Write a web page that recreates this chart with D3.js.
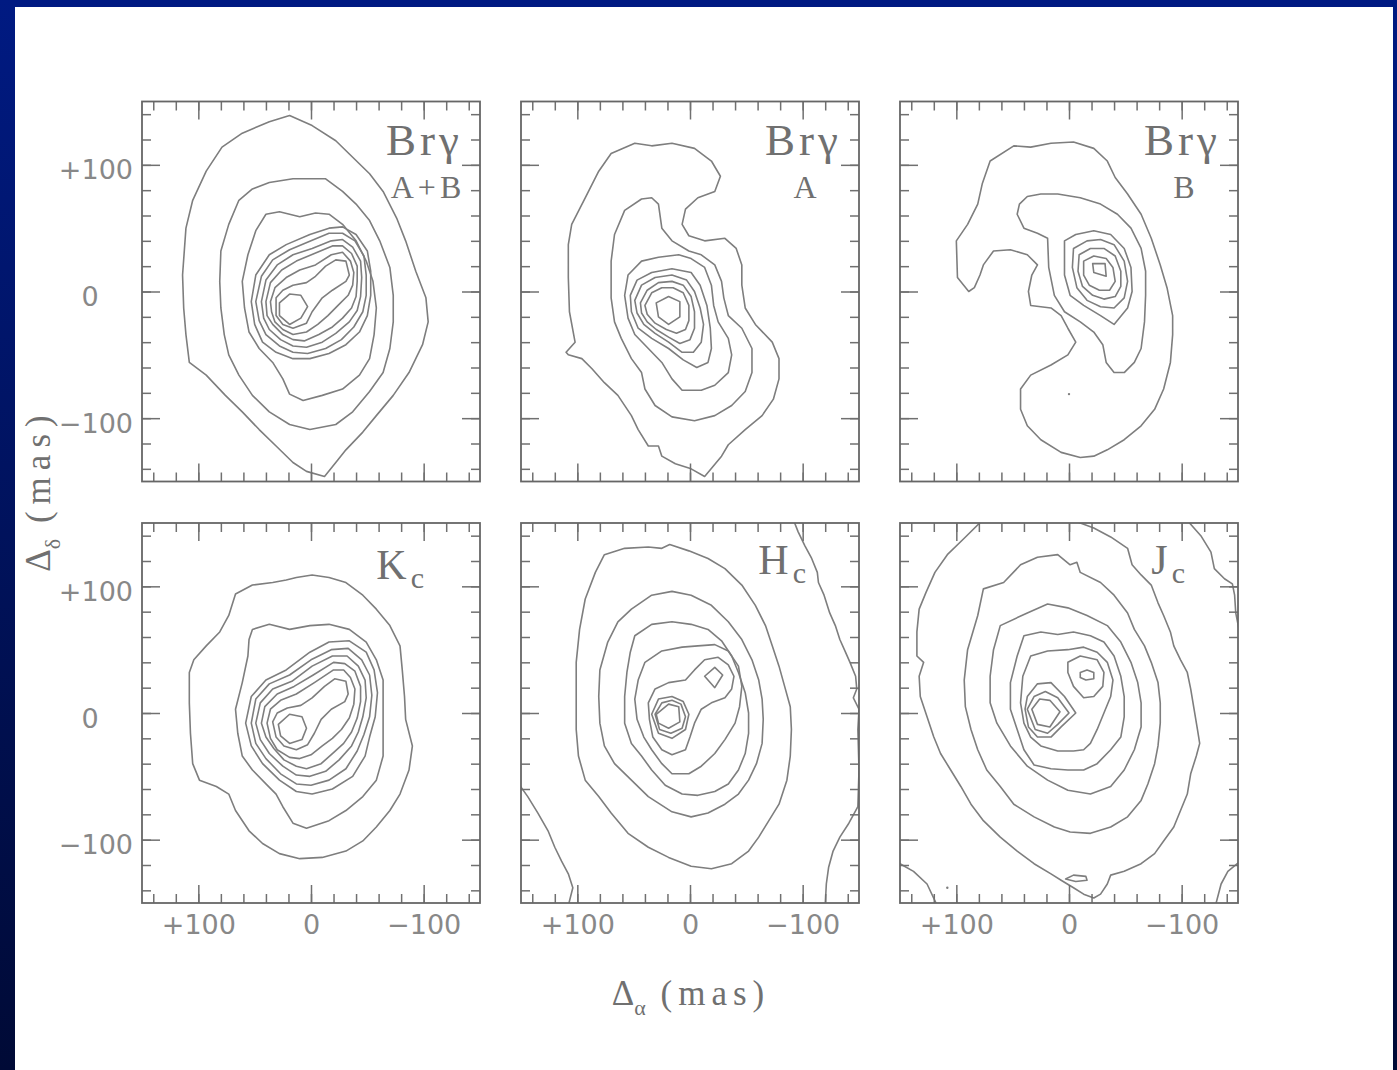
<!DOCTYPE html>
<html>
<head>
<meta charset="utf-8">
<script src="https://d3js.org/d3.v7.min.js"></script>
<style>
body {
  margin: 0;
  width: 1397px;
  height: 1070px;
  overflow: hidden;
  background: linear-gradient(#001a82, #000a36);
}
#sheet {
  position: absolute;
  left: 15px;
  top: 7px;
  width: 1378px;
  height: 1063px;
  background: #fff;
}
svg { position: absolute; left: 0; top: 0; }
.tick text { font-family: "DejaVu Sans", sans-serif; fill: #888; }
.tick line { stroke: #707070; stroke-width: 1.5; }
</style>
</head>
<body>
<div id="sheet"></div>
<svg id="chart" width="1397" height="1070"></svg>
<script>
// contour lines, offsets in mas [dAlpha, dDelta]
var brgAB = [
  [[19,139],[-1,131],[-22,119],[-37,106],[-52,93],[-64,79],[-76,58],[-84,40],[-93,16],[-102,-5],[-104,-24],[-99,-42],[-87,-64],[-73,-82],[-58,-98],[-46,-111],[-31,-125],[-22,-135],[-12,-146],[4,-142],[16,-135],[31,-122],[46,-109],[61,-95],[76,-82],[93,-66],[108,-56],[111,-34],[113,-13],[114,13],[111,50],[105,72],[93,95],[79,114],[61,125],[37,134]],
  [[52,81],[37,86],[16,89],[-13,89],[-28,79],[-40,69],[-52,56],[-61,40],[-70,19],[-73,-3],[-73,-24],[-70,-45],[-64,-64],[-52,-79],[-37,-95],[-22,-105],[1,-109],[19,-105],[37,-95],[52,-82],[64,-66],[73,-50],[77,-34],[80,-13],[81,8],[80,32],[73,53],[64,72]],
  [[40,61],[28,63],[10,59],[-4,62],[-16,61],[-28,53],[-40,40],[-49,24],[-55,8],[-58,-13],[-56,-34],[-52,-53],[-43,-66],[-28,-77],[-10,-82],[7,-86],[19,-81],[25,-69],[34,-56],[46,-45],[55,-32],[59,-13],[61,8],[56,29],[49,48]],
  [[53,-8],[49,13],[37,29],[22,37],[1,45],[-16,50],[-28,51],[-40,45],[-50,32],[-53,16],[-53,-3],[-50,-19],[-43,-32],[-31,-42],[-16,-49],[1,-53],[16,-53],[31,-48],[43,-40],[50,-26]],
  [[49,-8],[44,12],[34,25],[19,33],[0,40],[-16,46],[-28,46],[-39,40],[-47,28],[-49,13],[-49,-3],[-46,-16],[-38,-28],[-27,-38],[-13,-45],[3,-49],[16,-48],[28,-43],[40,-34],[46,-23]],
  [[44,-8],[40,9],[30,21],[16,29],[-1,34],[-18,40],[-28,41],[-37,35],[-44,24],[-45,11],[-44,-4],[-41,-15],[-34,-24],[-22,-33],[-10,-40],[4,-44],[16,-43],[27,-38],[37,-30],[42,-21]],
  [[40,-8],[36,7],[26,17],[13,24],[-3,30],[-19,36],[-28,36],[-36,30],[-41,20],[-41,8],[-40,-4],[-36,-13],[-28,-21],[-19,-28],[-7,-34],[6,-39],[16,-38],[25,-34],[34,-26],[39,-19]],
  [[36,-8],[32,3],[22,11],[10,17],[-4,21],[-18,29],[-28,31],[-35,24],[-38,15],[-37,5],[-33,-3],[-24,-11],[-15,-19],[-6,-26],[4,-32],[16,-34],[25,-30],[32,-24],[35,-16]],
  [[31,-5],[25,1],[16,5],[4,7],[-4,12],[-13,20],[-22,25],[-31,24],[-34,13],[-31,8],[-19,1],[-10,-5],[-1,-16],[4,-25],[16,-29],[25,-26],[31,-19]],
  [[28,-9],[19,-2],[9,-3],[3,-12],[9,-21],[19,-26],[28,-19]]
];

var brgA = [
  [[70,109],[49,117],[34,115],[16,117],[-4,113],[-19,103],[-27,91],[-22,79],[-7,74],[4,65],[7,53],[1,44],[-13,40],[-31,42],[-41,34],[-46,21],[-46,5],[-49,-13],[-58,-26],[-73,-40],[-79,-53],[-79,-69],[-74,-85],[-64,-98],[-49,-109],[-34,-121],[-28,-130],[-13,-146],[-1,-140],[13,-136],[25,-130],[28,-122],[37,-122],[46,-109],[52,-98],[64,-82],[76,-72],[87,-61],[96,-53],[108,-50],[110,-48],[102,-40],[107,-16],[108,11],[108,37],[105,53],[93,74],[81,95]],
  [[43,73],[34,74],[28,69],[25,50],[16,40],[1,32],[-10,29],[-22,21],[-28,8],[-30,-5],[-34,-19],[-46,-29],[-55,-45],[-55,-64],[-49,-79],[-37,-90],[-22,-98],[-4,-102],[16,-99],[31,-90],[40,-77],[43,-64],[52,-53],[61,-37],[67,-24],[70,-5],[70,24],[67,45],[58,64]],
  [[43,24],[28,27],[10,29],[-1,26],[-13,19],[-19,5],[-21,-11],[-25,-24],[-34,-37],[-37,-50],[-34,-64],[-22,-74],[-10,-78],[7,-78],[16,-69],[25,-56],[37,-45],[49,-34],[55,-21],[58,-3],[55,13]],
  [[53,-3],[47,9],[34,15],[16,18],[-1,15],[-9,5],[-15,-11],[-18,-29],[-19,-45],[-16,-56],[-6,-60],[6,-54],[19,-45],[34,-37],[46,-29],[52,-16]],
  [[49,-7],[43,5],[31,11],[16,13],[3,9],[-4,0],[-9,-13],[-12,-26],[-10,-40],[-3,-48],[7,-48],[19,-40],[31,-33],[41,-26],[47,-17]],
  [[44,-9],[38,1],[28,7],[16,8],[6,5],[-1,-4],[-4,-16],[-4,-29],[0,-38],[9,-41],[19,-36],[30,-30],[38,-24],[43,-17]],
  [[40,-11],[34,-1],[25,3],[15,3],[6,-1],[1,-11],[1,-23],[4,-30],[12,-33],[21,-30],[31,-25],[38,-18]],
  [[30,-9],[19,-4],[9,-8],[9,-20],[19,-26],[28,-20]]
];

var brgB = [
  [[70,103],[49,115],[34,114],[16,117],[-4,118],[-22,113],[-34,103],[-41,90],[-52,77],[-64,61],[-73,42],[-81,21],[-87,3],[-92,-19],[-92,-34],[-90,-56],[-84,-77],[-76,-93],[-64,-106],[-49,-117],[-34,-125],[-22,-130],[-10,-131],[7,-127],[25,-117],[37,-106],[43,-93],[43,-77],[34,-66],[16,-58],[1,-50],[-6,-40],[1,-29],[7,-19],[16,-13],[34,-11],[36,0],[33,13],[28,21],[37,29],[52,33],[67,32],[76,21],[79,13],[84,3],[89,0],[99,11],[100,40],[90,53],[81,69],[77,85]],
  [[44,69],[37,75],[25,77],[10,77],[-10,74],[-28,69],[-43,61],[-55,50],[-64,34],[-68,16],[-68,-3],[-67,-24],[-64,-45],[-58,-56],[-49,-64],[-40,-64],[-33,-56],[-30,-42],[-22,-32],[-10,-24],[4,-16],[13,-3],[18,19],[19,42],[28,46],[40,50],[46,61]],
  [[4,40],[-6,45],[-22,48],[-37,45],[-49,34],[-55,19],[-56,0],[-52,-13],[-40,-26],[-28,-19],[-13,-11],[-1,-3],[4,13]],
  [[-4,34],[-16,40],[-28,41],[-40,37],[-49,24],[-52,8],[-49,-5],[-40,-13],[-28,-12],[-16,-7],[-7,3],[-3,19]],
  [[-9,29],[-19,34],[-31,34],[-41,28],[-46,16],[-46,4],[-41,-4],[-31,-6],[-21,-3],[-12,4],[-8,16]],
  [[-13,24],[-22,28],[-33,26],[-39,19],[-41,8],[-36,1],[-27,1],[-18,5],[-13,13]],
  [[-21,22],[-32,22],[-33,12],[-22,15]]
];
var brgBDots = [[0,-81]];

var kc = [
  [[67,94],[52,101],[34,103],[22,105],[13,107],[-1,109],[-16,107],[-31,103],[-46,93],[-58,82],[-70,69],[-79,53],[-81,34],[-83,13],[-84,-5],[-90,-26],[-87,-45],[-79,-64],[-70,-77],[-58,-90],[-46,-101],[-31,-109],[-10,-114],[10,-115],[28,-111],[43,-103],[55,-93],[67,-77],[73,-64],[84,-58],[99,-53],[105,-40],[107,-16],[108,8],[108,32],[104,42],[93,53],[81,64],[73,77]],
  [[52,66],[37,70],[19,66],[1,69],[-16,70],[-34,66],[-49,56],[-58,42],[-64,26],[-64,8],[-64,-13],[-64,-34],[-58,-53],[-46,-66],[-31,-77],[-16,-85],[4,-91],[16,-87],[25,-74],[31,-64],[40,-56],[52,-45],[61,-34],[65,-16],[67,3],[61,24],[56,45],[55,58]],
  [[58,-8],[53,13],[40,26],[22,34],[1,48],[-16,56],[-34,57],[-49,48],[-56,34],[-59,16],[-57,-3],[-52,-19],[-48,-34],[-37,-50],[-19,-60],[-1,-64],[13,-62],[28,-53],[43,-40],[53,-26]],
  [[53,-8],[49,11],[37,23],[19,30],[0,42],[-18,50],[-33,51],[-45,42],[-52,30],[-54,14],[-52,-3],[-47,-17],[-41,-30],[-31,-44],[-16,-53],[0,-57],[13,-56],[27,-48],[40,-36],[49,-24]],
  [[49,-8],[45,8],[34,19],[17,25],[-1,37],[-19,45],[-32,45],[-42,37],[-48,26],[-49,12],[-46,-3],[-42,-15],[-36,-26],[-25,-37],[-13,-46],[1,-50],[13,-49],[25,-42],[37,-32],[45,-21]],
  [[44,-8],[41,5],[30,15],[15,21],[-2,30],[-20,40],[-30,39],[-39,33],[-44,21],[-44,9],[-41,-4],[-36,-15],[-29,-24],[-19,-32],[-9,-40],[4,-44],[13,-42],[24,-37],[33,-28],[40,-19]],
  [[39,-8],[36,3],[27,10],[13,15],[-3,24],[-20,34],[-29,34],[-35,28],[-39,19],[-38,7],[-34,-4],[-27,-13],[-19,-20],[-10,-26],[0,-33],[10,-36],[19,-35],[30,-29],[36,-20]],
  [[34,-7],[30,0],[21,4],[9,6],[-1,12],[-12,21],[-21,27],[-31,25],[-33,15],[-30,9],[-18,3],[-9,-5],[-3,-16],[3,-25],[13,-29],[24,-26],[31,-19]],
  [[29,-9],[19,-1],[8,-3],[4,-12],[8,-21],[19,-24],[27,-18]]
];

var hc = [
  [[76,125],[58,130],[37,131],[25,130],[18,133],[1,128],[-16,122],[-31,114],[-46,101],[-58,85],[-67,69],[-73,53],[-79,37],[-84,21],[-89,5],[-90,-13],[-89,-34],[-86,-53],[-79,-72],[-70,-85],[-61,-98],[-52,-109],[-37,-119],[-19,-123],[-1,-121],[19,-114],[37,-106],[55,-95],[70,-79],[81,-66],[93,-53],[99,-34],[101,-13],[101,13],[101,40],[98,66],[93,90],[84,111]],
  [[52,82],[34,93],[16,96],[-1,93],[-19,85],[-34,72],[-46,58],[-55,42],[-61,26],[-64,11],[-65,-5],[-64,-24],[-59,-40],[-52,-53],[-43,-64],[-31,-72],[-16,-79],[-1,-82],[16,-78],[37,-66],[52,-53],[67,-40],[76,-26],[80,-8],[81,13],[80,34],[73,56],[64,72]],
  [[49,61],[34,70],[16,72],[-1,70],[-16,66],[-28,57],[-37,45],[-43,32],[-49,16],[-52,0],[-52,-16],[-49,-32],[-43,-45],[-34,-56],[-22,-62],[-7,-65],[7,-64],[22,-57],[34,-45],[43,-34],[52,-24],[58,-8],[58,13],[56,32],[53,48]],
  [[40,40],[25,49],[7,52],[-7,53],[-22,54],[-34,49],[-43,37],[-46,21],[-44,5],[-40,-8],[-31,-21],[-22,-32],[-10,-42],[1,-48],[16,-48],[25,-40],[34,-29],[41,-19],[47,-5],[49,11],[46,26]],
  [[37,8],[31,19],[19,24],[4,26],[-4,34],[-13,42],[-25,44],[-34,38],[-39,29],[-37,19],[-31,12],[-19,8],[-10,3],[-4,-8],[0,-19],[4,-29],[16,-33],[25,-29],[33,-19],[36,-5]],
  [[34,-1],[28,11],[16,13],[6,9],[1,-1],[4,-13],[16,-20],[28,-16]],
  [[31,-1],[25,8],[16,10],[8,7],[4,-3],[7,-12],[17,-16],[27,-13]],
  [[30,-1],[19,7],[10,5],[9,-7],[19,-12],[28,-8]],
  [[-13,29],[-22,36],[-29,30],[-22,20]]
];
var hcOpen = [
  [[-92,152],[-96,143],[-102,132],[-108,122],[-113,111],[-114,103],[-119,93],[-124,79],[-129,69],[-133,58],[-138,48],[-142,40],[-147,29],[-148,19],[-145,12],[-150,3],[-149,-13],[-150,-45],[-149,-74],[-141,-87],[-133,-98],[-127,-109],[-123,-122],[-121,-135],[-120,-152]],
  [[152,-56],[144,-66],[135,-79],[126,-93],[120,-106],[114,-117],[108,-127],[104,-138],[108,-152]]
];

var jc = [
  [[28,123],[10,125],[-1,117],[-7,119],[-10,111],[-28,103],[-40,93],[-52,79],[-58,66],[-67,53],[-73,40],[-79,24],[-81,8],[-81,-8],[-79,-26],[-76,-40],[-70,-56],[-64,-69],[-52,-82],[-37,-90],[-19,-95],[-1,-94],[13,-90],[31,-82],[49,-72],[61,-58],[73,-45],[81,-29],[87,-13],[92,5],[93,26],[90,50],[81,77],[76,98],[58,103],[43,117]],
  [[61,69],[37,79],[19,86],[1,83],[-16,77],[-34,69],[-46,56],[-55,40],[-61,24],[-64,8],[-64,-11],[-58,-29],[-49,-45],[-37,-58],[-19,-64],[1,-61],[19,-53],[37,-42],[52,-26],[64,-8],[70,8],[70,29],[67,50]],
  [[40,61],[25,64],[10,62],[-4,64],[-19,61],[-31,56],[-40,45],[-46,29],[-49,13],[-49,-3],[-46,-19],[-37,-29],[-25,-40],[-13,-45],[1,-45],[16,-44],[31,-41],[40,-29],[46,-13],[52,3],[52,24],[46,45]],
  [[34,45],[19,49],[1,50],[-13,52],[-25,48],[-34,40],[-39,26],[-37,13],[-31,0],[-25,-13],[-19,-24],[-13,-29],[-4,-30],[10,-30],[25,-26],[34,-19],[40,-8],[43,8],[41,29]],
  [[37,13],[28,23],[16,24],[4,13],[-6,0],[7,-11],[16,-19],[28,-19],[36,-11],[39,3]],
  [[37,3],[31,13],[21,17],[10,12],[0,0],[10,-9],[19,-16],[30,-13]],
  [[33,3],[26,11],[17,10],[8,1],[17,-11],[28,-9]],
  [[1,40],[-10,45],[-25,42],[-31,32],[-30,21],[-22,13],[-13,12],[-4,21],[1,32]],
  [[-10,32],[-16,34],[-22,32],[-22,27],[-15,26],[-10,28]],
  [[3,-131],[-4,-128],[-15,-129],[-16,-132],[-6,-133]]
];
var jcOpen = [
  [[-4,152],[-22,146],[-37,139],[-52,130],[-56,117],[-64,109],[-73,101],[-79,87],[-84,77],[-90,64],[-93,53],[-99,42],[-105,32],[-108,19],[-111,3],[-114,-13],[-116,-24],[-113,-34],[-108,-48],[-105,-64],[-99,-77],[-93,-90],[-84,-101],[-76,-111],[-64,-119],[-49,-125],[-37,-128],[-34,-135],[-28,-143],[-22,-146],[-13,-143],[-4,-138],[7,-132],[16,-127],[31,-119],[46,-109],[61,-98],[76,-85],[87,-72],[96,-58],[105,-45],[114,-32],[120,-19],[126,-3],[132,13],[133,29],[129,40],[135,45],[135,64],[133,82],[127,95],[119,111],[108,125],[93,138],[77,152]],
  [[-105,152],[-117,140],[-126,127],[-129,114],[-138,106],[-145,102],[-147,93],[-148,79],[-152,61]],
  [[152,-118],[138,-125],[126,-135],[117,-152]],
  [[-152,-117],[-141,-125],[-135,-135],[-130,-152]]
];
var jcDots = [[108,-138]];

var titles = ["Br\u03b3", "Br\u03b3", "Br\u03b3", "K", "H", "J"];
var subs = ["A+B", "A", "B", "c", "c", "c"];
var majorTicks = [100, 0, -100];
var minorTicks = d3.range(-140, 141, 20);

var PW = 338, PH = 380;
var colX = [142, 521, 900];
var rowY = [101.5, 523];
var LINE = "#7e7e7e";

var panels = [
  {closed: brgAB, open: [], dots: []},
  {closed: brgA, open: [], dots: []},
  {closed: brgB, open: [], dots: brgBDots},
  {closed: kc, open: [], dots: []},
  {closed: hc, open: hcOpen, dots: []},
  {closed: jc, open: jcOpen, dots: jcDots}
];

var svg = d3.select("#chart");
var x = d3.scaleLinear().domain([150, -150]).range([0, PW]);
var y = d3.scaleLinear().domain([150, -150]).range([0, PH]);
var fmt = function(d) { return d > 0 ? "+" + d : (d < 0 ? "\u2212" + (-d) : "0"); };

var closedLine = d3.line().x(function(d) { return x(d[0]); }).y(function(d) { return y(d[1]); }).curve(d3.curveLinearClosed);
var openLine = d3.line().x(function(d) { return x(d[0]); }).y(function(d) { return y(d[1]); });

panels.forEach(function(p, i) {
  var col = i % 3, row = Math.floor(i / 3);
  var g = svg.append("g").attr("transform", "translate(" + colX[col] + "," + rowY[row] + ")");

  g.append("clipPath").attr("id", "clip" + i)
    .append("rect").attr("width", PW).attr("height", PH);

  var c = g.append("g").attr("clip-path", "url(#clip" + i + ")")
    .attr("fill", "none").attr("stroke", LINE).attr("stroke-width", 1.6).attr("stroke-linejoin", "round");
  c.selectAll("path.cl").data(p.closed).enter().append("path").attr("class", "cl").attr("d", closedLine);
  c.selectAll("path.op").data(p.open).enter().append("path").attr("class", "op").attr("d", openLine);
  g.selectAll("circle").data(p.dots).enter().append("circle")
    .attr("cx", function(d) { return x(d[0]); }).attr("cy", function(d) { return y(d[1]); })
    .attr("r", 1.2).attr("fill", LINE);

  // ticks on all four sides, pointing in; labels only on the outer edges
  var axes = [
    {ax: d3.axisBottom(x), tr: "translate(0," + PH + ")", lab: row == 1, side: "b"},
    {ax: d3.axisTop(x), tr: "translate(0,0)", lab: false, side: "t"},
    {ax: d3.axisLeft(y), tr: "translate(0,0)", lab: col == 0, side: "l"},
    {ax: d3.axisRight(y), tr: "translate(" + PW + ",0)", lab: false, side: "r"}
  ];
  axes.forEach(function(a) {
    g.append("g").attr("transform", a.tr)
      .call(a.ax.tickValues(minorTicks).tickSize(-9).tickSizeOuter(0).tickFormat(""))
      .call(function(s) { s.select(".domain").remove(); });
    var major = g.append("g").attr("transform", a.tr)
      .call(a.ax.tickValues(majorTicks).tickSize(-18).tickSizeOuter(0).tickPadding(12)
        .tickFormat(a.lab ? fmt : ""))
      .call(function(s) { s.select(".domain").remove(); });
    var t = major.selectAll("text").attr("font-size", 27);
    if (a.side == "l" && a.lab) {
      t.attr("dy", "0.52em").attr("x", -9);
      t.filter(function(d) { return d === 0; }).attr("text-anchor", "middle").attr("x", -52);
    }
  });

  g.append("rect").attr("width", PW).attr("height", PH)
    .attr("fill", "none").attr("stroke", "#666").attr("stroke-width", 1.8);

  // panel label
  var lab = g.append("text").attr("font-family", "'Liberation Serif', serif").attr("fill", "#707070");
  if (row == 0) {
    lab.attr("x", PW - 17).attr("y", 53).attr("text-anchor", "end")
      .attr("font-size", 45).attr("letter-spacing", 4).text(titles[i]);
    g.append("text").attr("font-family", "'Liberation Serif', serif").attr("fill", "#707070")
      .attr("x", PW - 52).attr("y", 96).attr("text-anchor", "middle")
      .attr("font-size", 32).attr("letter-spacing", 4).text(subs[i]);
  } else {
    var right = [56, 53, 53][col], base = [56, 51, 51][col];
    lab.attr("x", PW - right).attr("y", base).attr("text-anchor", "end").attr("font-size", 42);
    lab.append("tspan").text(titles[i]);
    lab.append("tspan").attr("font-size", 30).attr("dx", 4).attr("dy", 9).text(subs[i]);
  }
});

// axis titles
var xt = svg.append("text").attr("x", 691).attr("y", 1005).attr("text-anchor", "middle")
  .attr("font-family", "'Liberation Serif', serif").attr("font-size", 35).attr("fill", "#707070");
xt.append("tspan").text("\u0394");
xt.append("tspan").attr("font-size", 22).attr("dy", 10).text("\u03b1");
xt.append("tspan").attr("dy", -10).attr("letter-spacing", 6).text("  (mas)");

var yt = svg.append("text").attr("transform", "translate(50,490) rotate(-90)").attr("text-anchor", "middle")
  .attr("font-family", "'Liberation Serif', serif").attr("font-size", 35).attr("fill", "#707070");
yt.append("tspan").text("\u0394");
yt.append("tspan").attr("font-size", 22).attr("dy", 10).text("\u03b4");
yt.append("tspan").attr("dy", -10).attr("letter-spacing", 7).text("   (mas)");
</script>
</body>
</html>
